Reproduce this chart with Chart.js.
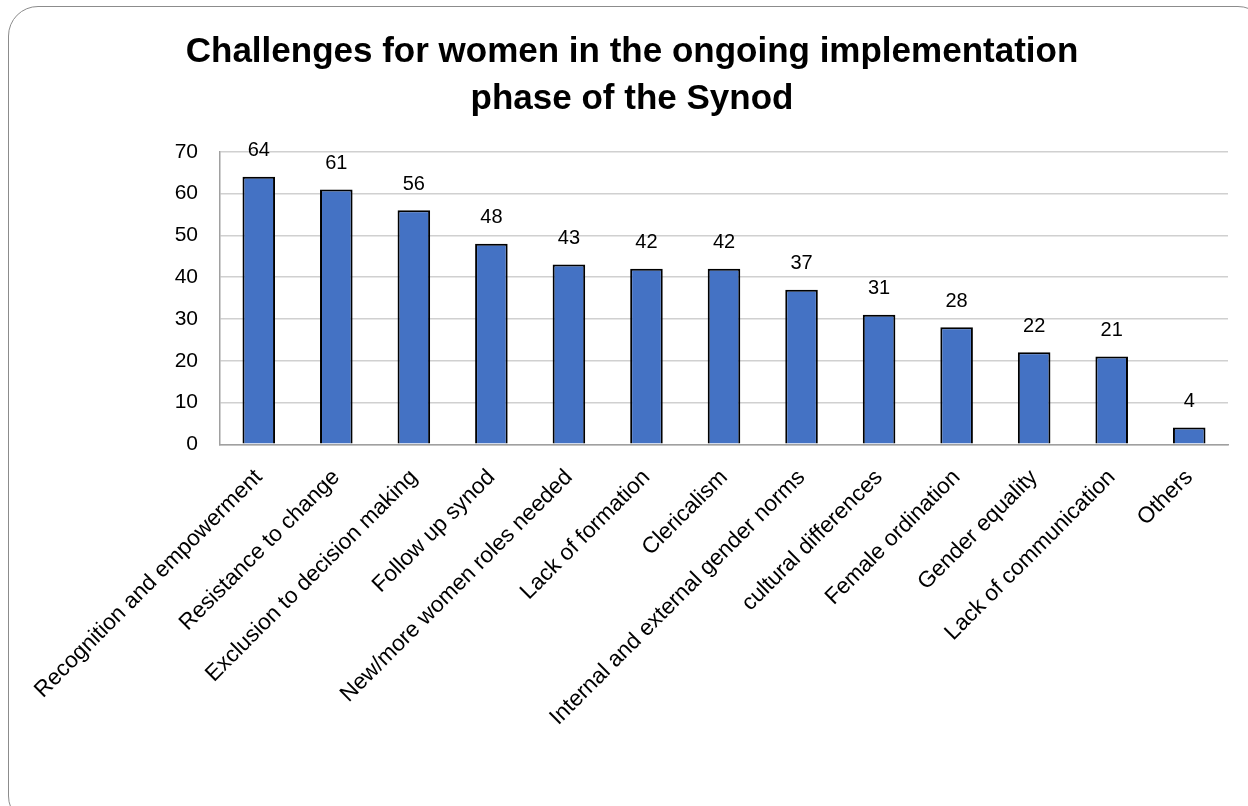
<!DOCTYPE html>
<html>
<head>
<meta charset="utf-8">
<script src="https://cdn.jsdelivr.net/npm/chart.js@4.4.1/dist/chart.umd.min.js"></script>
<style>
  html, body { margin: 0; padding: 0; background: #fff; }
  .frame {
    position: absolute; left: 8px; top: 6px; width: 1260px; height: 820px;
    border: 1px solid #8c8c8c; border-radius: 30px; box-sizing: border-box;
  }
  .wrap { position: absolute; left: 0; top: 0; width: 1248px; height: 806px; }
</style>
</head>
<body>
<div class="frame"></div>
<div class="wrap"><canvas id="dataChart"></canvas></div>
<script>
const categories = [
  'Recognition and empowerment', 'Resistance to change', 'Exclusion to decision making',
  'Follow up synod', 'New/more women roles needed', 'Lack of formation', 'Clericalism',
  'Internal and external gender norms', 'cultural differences', 'Female ordination',
  'Gender equality', 'Lack of communication', 'Others'
];
const counts = [64, 61, 56, 48, 43, 42, 42, 37, 31, 28, 22, 21, 4];
const titleLines = ['Challenges for women in the ongoing implementation', 'phase of the Synod'];

const FONT = '"Liberation Sans", Arial, sans-serif';

// writes each bar's value just above it
const valueLabels = {
  id: 'valueLabels',
  afterDatasetsDraw(chart) {
    const ctx = chart.ctx;
    const meta = chart.getDatasetMeta(0);
    ctx.save();
    ctx.font = '20px ' + FONT;
    ctx.fillStyle = '#000';
    ctx.textAlign = 'center';
    ctx.textBaseline = 'bottom';
    meta.data.forEach((bar, i) => {
      ctx.fillText(counts[i], bar.x, bar.y - 16);
    });
    ctx.restore();
  }
};

document.addEventListener('DOMContentLoaded', function() {
  const ctx = document.getElementById('dataChart').getContext('2d');
  new Chart(ctx, {
    type: 'bar',
    data: {
      labels: categories,
      datasets: [{
        data: counts,
        backgroundColor: '#4472C4',
        borderColor: '#000',
        borderWidth: 2,
        barPercentage: 0.42,
        categoryPercentage: 1
      }]
    },
    options: {
      responsive: true,
      maintainAspectRatio: false,
      animation: false,
      layout: { padding: { left: 36, right: 20, top: 0, bottom: 55 } },
      plugins: {
        legend: { display: false },
        tooltip: { enabled: false },
        title: {
          display: true,
          text: titleLines,
          color: '#000',
          font: { family: FONT, size: 35, weight: 'bold', lineHeight: 1.34 },
          padding: { top: 29, bottom: 29 }
        }
      },
      scales: {
        y: {
          min: 0, max: 70,
          afterFit(scale) { scale.width = 184; },
          ticks: { stepSize: 10, color: '#000', padding: 22,
                   font: { family: FONT, size: 21 } },
          grid: { color: '#d0d0d0', lineWidth: 1.5, drawTicks: false },
          border: { color: '#a0a0a0', width: 1.5 }
        },
        x: {
          ticks: { color: '#000', minRotation: 45, maxRotation: 45, padding: 20, autoSkip: false,
                   font: { family: FONT, size: 22.5 } },
          grid: { display: false, drawTicks: false },
          border: { color: '#a0a0a0', width: 1.5 }
        }
      }
    },
    plugins: [valueLabels]
  });
});
</script>
</body>
</html>
